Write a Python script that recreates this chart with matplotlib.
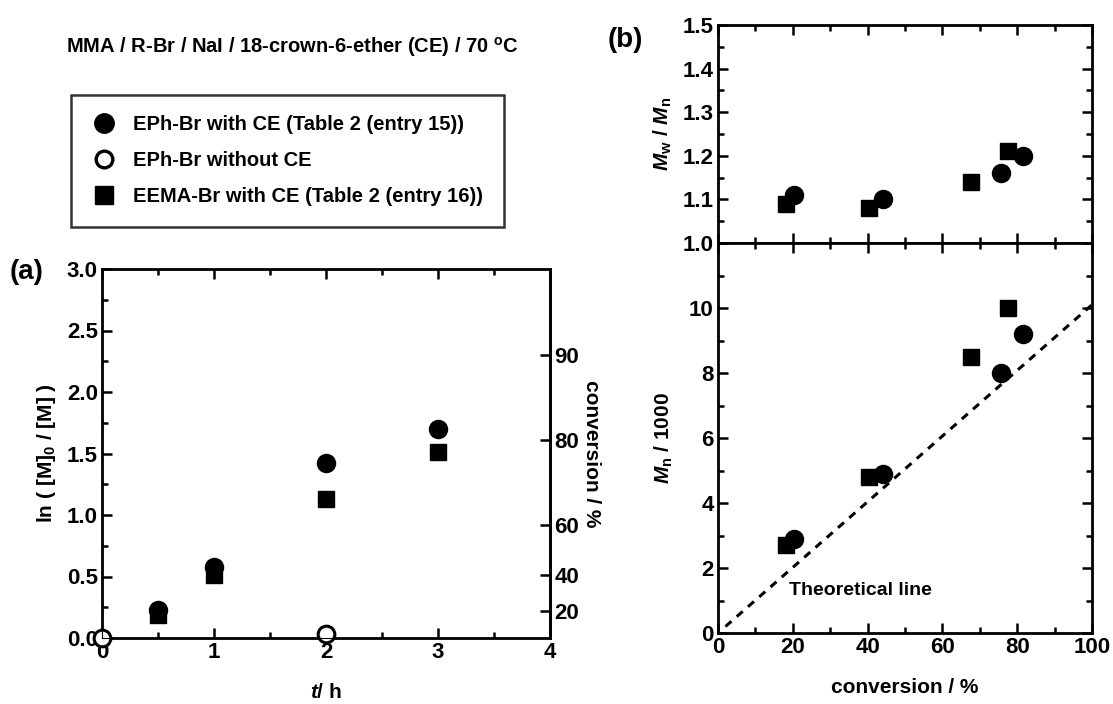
import numpy as np
import matplotlib
matplotlib.use("Agg")
import matplotlib.pyplot as plt
from matplotlib.lines import Line2D
from matplotlib.ticker import MultipleLocator

plt.rcParams["font.family"] = ["Liberation Sans", "DejaVu Sans"]
plt.rcParams["font.weight"] = "bold"
plt.rcParams["axes.labelweight"] = "bold"
plt.rcParams["mathtext.fontset"] = "custom"
plt.rcParams["mathtext.rm"] = "Liberation Sans:bold"
plt.rcParams["mathtext.it"] = "Liberation Sans:bold:italic"
plt.rcParams["mathtext.bf"] = "Liberation Sans:bold"

# (a) first-order kinetic plot
t_ce = [0.5, 1, 2, 3]
lnm_ephbr_ce = [0.23, 0.58, 1.42, 1.70]
lnm_eema_ce = [0.19, 0.51, 1.13, 1.51]
t_noce = [0, 2]
lnm_ephbr_noce = [0.0, 0.03]
conv_ticks = [20, 40, 60, 80, 90]

# (b) Mw/Mn and Mn against conversion
conv_ephbr = [20.3, 44.0, 75.7, 81.6]
pdi_ephbr = [1.11, 1.10, 1.16, 1.20]
mn_ephbr = [2.9, 4.9, 8.0, 9.2]
conv_eema = [18.2, 40.5, 67.6, 77.6]
pdi_eema = [1.09, 1.08, 1.14, 1.21]
mn_eema = [2.7, 4.8, 8.5, 10.0]
theo_conv = [2, 100]
theo_mn = [0.2, 10.1]

W, H = 1113, 704
fig = plt.figure(figsize=(W / 100, H / 100), dpi=100)

TICK_FS = 16
LABEL_FS = 15
TEXT_FS = 14.5
SPINE_LW = 2.0
CIRC_MS = 13
SQ_MS = 11.3


def style_axes(ax):
    for s in ax.spines.values():
        s.set_linewidth(SPINE_LW)
    ax.tick_params(which="both", direction="in", width=1.8, labelsize=TICK_FS,
                   top=True, right=True, pad=3)
    ax.tick_params(which="major", length=7)
    ax.tick_params(which="minor", length=4)


def box(l, b, r, t):
    return [l / W, 1 - b / H, (r - l) / W, (b - t) / H]


# ---- panel (a) ----
ax_a = fig.add_axes(box(102, 638, 550, 269))
style_axes(ax_a)
ax_a.tick_params(right=False, which="both")
ax_a.plot(t_ce, lnm_eema_ce, "s", color="black", ms=SQ_MS, mec="black")
ax_a.plot(t_ce, lnm_ephbr_ce, "o", color="black", ms=CIRC_MS, mec="black")
ax_a.plot(t_noce, lnm_ephbr_noce, "o", mfc="white", mec="black", mew=2.2,
          ms=CIRC_MS - 1, clip_on=False, zorder=5)
ax_a.set_xlim(0, 4)
ax_a.set_ylim(0, 3)
ax_a.xaxis.set_major_locator(MultipleLocator(1))
ax_a.xaxis.set_minor_locator(MultipleLocator(0.5))
ax_a.yaxis.set_major_locator(MultipleLocator(0.5))
ax_a.yaxis.set_minor_locator(MultipleLocator(0.25))
ax_a.yaxis.set_major_formatter(lambda v, p: f"{v:.1f}")
ax_a.set_xlabel(r"$\mathit{t}$/ h", fontsize=LABEL_FS, labelpad=14)
ax_a.set_ylabel(r"ln ( [M]$_0$ / [M] )", fontsize=LABEL_FS, labelpad=6)

ax_c = ax_a.twinx()
ax_c.set_ylim(0, 3)
ax_c.spines["right"].set_linewidth(SPINE_LW)
ax_c.set_yticks([-np.log(1 - c / 100) for c in conv_ticks])
ax_c.set_yticklabels([str(c) for c in conv_ticks])
ax_c.tick_params(axis="y", direction="in", length=7, width=1.8,
                 labelsize=TICK_FS, pad=3)
ax_c.set_ylabel("conversion / %", fontsize=LABEL_FS, rotation=270, labelpad=16)

fig.text(10 / W, 1 - 272 / H, "(a)", fontsize=20, fontweight="bold", va="center")

# ---- panel (b), upper: Mw/Mn ----
ax_b1 = fig.add_axes(box(718, 243, 1092, 25))
style_axes(ax_b1)
ax_b1.plot(conv_eema, pdi_eema, "s", color="black", ms=SQ_MS)
ax_b1.plot(conv_ephbr, pdi_ephbr, "o", color="black", ms=CIRC_MS)
ax_b1.set_xlim(0, 100)
ax_b1.set_ylim(1.0, 1.5)
ax_b1.xaxis.set_major_locator(MultipleLocator(20))
ax_b1.xaxis.set_minor_locator(MultipleLocator(10))
ax_b1.yaxis.set_major_locator(MultipleLocator(0.1))
ax_b1.yaxis.set_minor_locator(MultipleLocator(0.05))
ax_b1.yaxis.set_major_formatter(lambda v, p: f"{v:.1f}")
ax_b1.tick_params(labelbottom=False)
ax_b1.set_ylabel(r"$\mathit{M}_\mathrm{w}$ / $\mathit{M}_\mathrm{n}$",
                 fontsize=LABEL_FS, labelpad=6)

# ---- panel (b), lower: Mn ----
ax_b2 = fig.add_axes(box(718, 633, 1092, 243))
style_axes(ax_b2)
ax_b2.plot(theo_conv, theo_mn, color="black", lw=2.2, dashes=(2.6, 2.3))
ax_b2.plot(conv_eema, mn_eema, "s", color="black", ms=SQ_MS)
ax_b2.plot(conv_ephbr, mn_ephbr, "o", color="black", ms=CIRC_MS)
ax_b2.set_xlim(0, 100)
ax_b2.set_ylim(0, 12)
ax_b2.xaxis.set_major_locator(MultipleLocator(20))
ax_b2.xaxis.set_minor_locator(MultipleLocator(10))
ax_b2.yaxis.set_major_locator(MultipleLocator(2))
ax_b2.yaxis.set_minor_locator(MultipleLocator(1))
ax_b2.yaxis.set_major_formatter(lambda v, p: "" if v >= 12 else f"{v:.0f}")
ax_b2.set_xlabel("conversion / %", fontsize=LABEL_FS, labelpad=14)
ax_b2.set_ylabel(r"$\mathit{M}_\mathrm{n}$ / 1000", fontsize=LABEL_FS, labelpad=10)
ax_b2.text(19, 1.3, "Theoretical line", fontsize=14, fontweight="bold", va="center")

fig.text(608 / W, 1 - 40 / H, "(b)", fontsize=20, fontweight="bold", va="center")

# ---- conditions and legend ----
fig.text(292 / W, 1 - 47 / H,
         r"MMA / R-Br / NaI / 18-crown-6-ether (CE) / 70 $^\mathrm{o}$C",
         fontsize=TEXT_FS, fontweight="bold", ha="center", va="center")

handles = [
    Line2D([], [], ls="", marker="o", color="black", ms=CIRC_MS + 1),
    Line2D([], [], ls="", marker="o", mfc="white", mec="black", mew=2.4, ms=CIRC_MS - 1),
    Line2D([], [], ls="", marker="s", color="black", ms=SQ_MS + 1),
]
labels = ["EPh-Br with CE (Table 2 (entry 15))", "EPh-Br without CE",
          "EEMA-Br with CE (Table 2 (entry 16))"]
leg = fig.legend(handles, labels, loc="upper left",
                 bbox_to_anchor=(71 / W, 1 - 95 / H), borderaxespad=0,
                 frameon=True, fancybox=False, edgecolor="black",
                 prop={"size": TEXT_FS, "weight": "bold"}, handlelength=1.3,
                 handletextpad=0.8, labelspacing=0.85, borderpad=1.0)
leg.get_frame().set_linewidth(1.8)

fig.savefig("out.png", dpi=100)
